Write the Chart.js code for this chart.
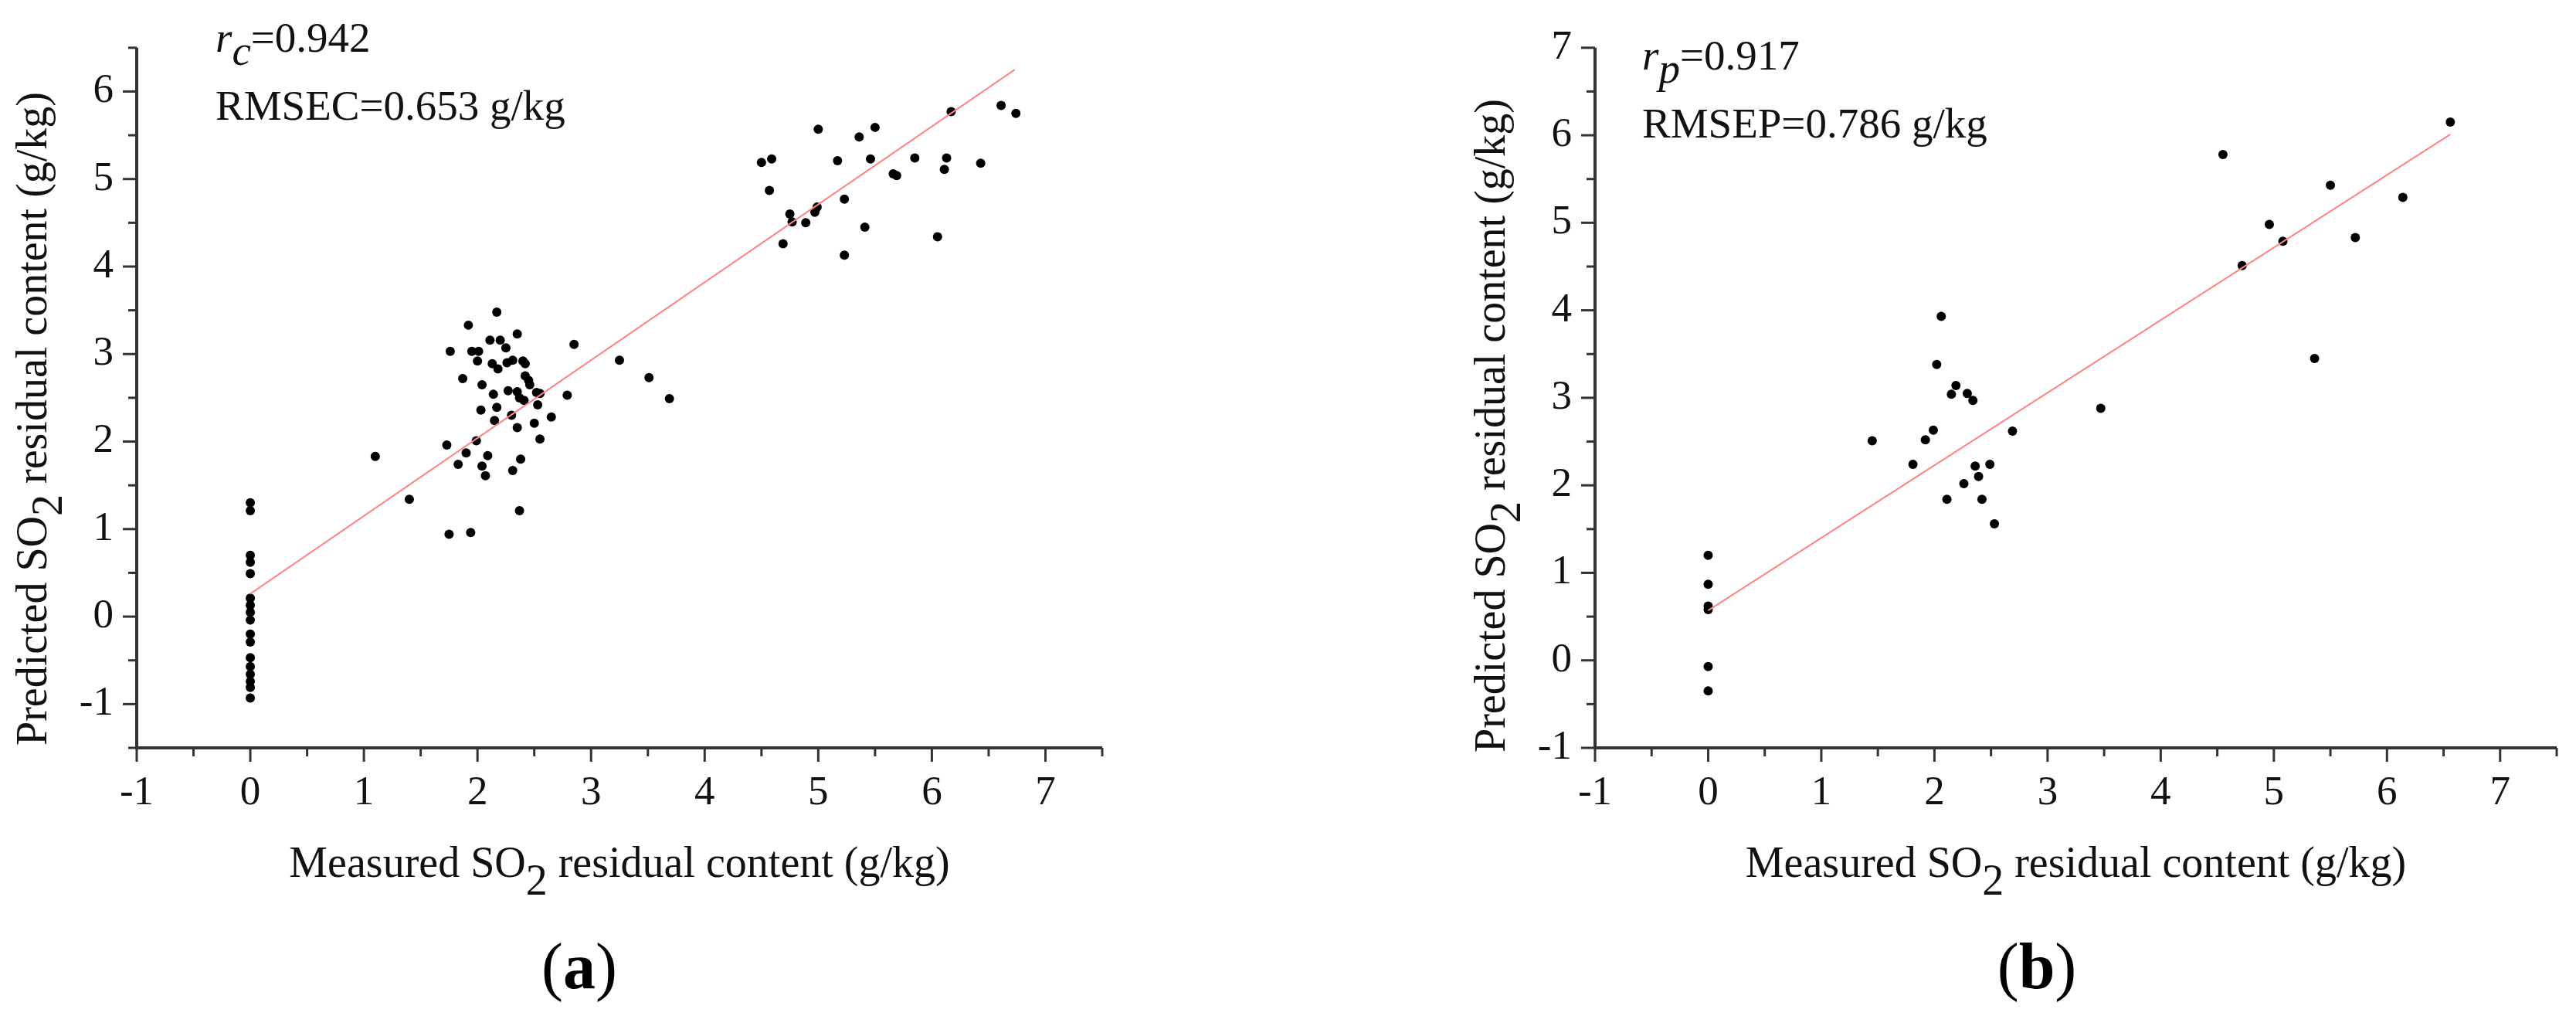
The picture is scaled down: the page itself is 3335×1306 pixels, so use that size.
<!DOCTYPE html>
<html>
<head>
<meta charset="utf-8">
<script src="https://cdn.jsdelivr.net/npm/chart.js@4.4.1/dist/chart.umd.min.js"></script>
<style>
  body { margin:0; width:3335px; height:1306px; background:#fff; position:relative; overflow:hidden; font-family:"Liberation Serif","Times New Roman",serif; }
  canvas { position:absolute; top:0; }
  .tag { position:absolute; top:1251px; transform:translate(-50%,-50%); font-family:"Liberation Serif","Times New Roman",serif; font-size:84px; line-height:1; color:#000; white-space:nowrap; }
  .warm { position:absolute; left:-9999px; top:0; font-family:"Liberation Serif"; font-size:20px; }
</style>
</head>
<body>
<canvas id="calChart" width="1667" height="1306" style="left:0"></canvas>
<canvas id="predChart" width="1668" height="1306" style="left:1667px"></canvas>
<div class="tag" style="left:750px">(<b>a</b>)</div>
<div class="tag" style="left:2637px">(<b>b</b>)</div>
<div class="warm">Measured <i>rc</i></div>
<script>
const FONT = '"Liberation Serif", "Times New Roman", serif';

// (a) calibration set: measured vs predicted SO2 (g/kg)
const calMeasured = [
  0, 0, 0, 0, 0, 0, 0, 0, 0, 0, 0, 0, 0, 0, 0, 0, 0,
  1.10, 1.40, 2.17, 1.92, 2.35, 2.11, 2.20, 2.25, 1.76, 1.95, 2.01, 2.00, 2.13, 2.18,
  2.26, 2.31, 2.40, 2.42, 2.85, 3.25, 3.51, 3.69, 1.87, 2.04, 2.42, 2.45, 2.46, 2.14,
  2.27, 2.35, 2.37, 2.41, 2.52, 2.55, 2.79, 2.53, 2.03, 2.17, 2.30, 2.15, 2.35, 2.50,
  2.65, 2.55, 1.99, 1.73, 1.90, 2.09, 1.83, 2.04, 2.07, 2.38, 2.31, 2.37, 1.75, 1.94,
  6.61, 6.74, 6.17, 5.00, 5.50, 5.36, 4.50, 4.59, 5.17, 5.46, 5.85, 6.13, 6.11, 6.43,
  5.66, 5.69, 4.57, 5.23, 4.99, 4.97, 4.75, 4.77, 4.89, 5.41, 4.69, 5.23, 6.05
];
const calPredicted = [
  1.30, 1.21, 0.70, 0.62, 0.49, 0.21, 0.13, 0.05, -0.04, -0.20, -0.29, -0.47, -0.57, -0.66, -0.74, -0.81, -0.93,
  1.83, 1.34, 3.48, 3.33, 3.23, 3.16, 3.16, 3.07, 3.03, 3.03, 3.03, 2.92, 2.89, 2.83,
  2.90, 2.93, 2.92, 2.89, 3.11, 2.93, 2.73, 2.49, 2.72, 2.65, 2.75, 2.70, 2.65, 2.54,
  2.58, 2.57, 2.50, 2.47, 2.56, 2.55, 2.53, 2.42, 2.36, 2.39, 2.30, 2.24, 2.16, 2.21,
  2.28, 2.03, 2.01, 1.96, 1.87, 1.84, 1.74, 1.72, 1.61, 1.80, 1.67, 1.21, 0.94, 0.96,
  5.84, 5.75, 5.77, 5.57, 5.59, 5.48, 5.19, 5.23, 5.21, 5.23, 5.24, 5.24, 5.11, 5.18,
  5.06, 5.04, 4.87, 4.77, 4.68, 4.62, 4.60, 4.51, 4.50, 4.45, 4.26, 4.13, 4.34
];
const calFitX = [0, 6.73];
const calFitY = [0.26, 6.25];

// (b) prediction set
const predMeasured = [
  0, 0, 0, 0, 0, 0,
  2.06, 2.02, 2.19, 2.15, 2.29, 2.34, 1.45, 1.99, 1.92, 1.81, 2.36, 2.49, 2.39, 2.26, 2.11, 2.42, 2.53,
  6.56, 4.55, 5.50, 6.14, 4.96, 5.08, 5.72, 4.72, 5.36, 3.47, 2.69
];
const predPredicted = [
  1.20, 0.87, 0.62, 0.58, -0.07, -0.35,
  3.93, 3.38, 3.14, 3.04, 3.05, 2.97, 2.51, 2.63, 2.52, 2.24, 2.22, 2.24, 2.10, 2.02, 1.84, 1.84, 1.56,
  6.15, 5.78, 5.43, 5.29, 4.98, 4.79, 4.83, 4.51, 3.45, 2.88, 2.62
];
const predFitX = [0, 6.56];
const predFitY = [0.57, 6.01];

// tick labels
const xTickValues = [-1, 0, 1, 2, 3, 4, 5, 6, 7];
const calYTickValues = [-1, 0, 1, 2, 3, 4, 5, 6];
const predYTickValues = [-1, 0, 1, 2, 3, 4, 5, 6, 7];

const xTitle = [{ t: 'Measured SO' }, { t: '2', sub: true }, { t: ' residual content (g/kg)' }];
const yTitle = [{ t: 'Predicted SO' }, { t: '2', sub: true }, { t: ' residual content (g/kg)' }];

function fontOf(p, size) {
  return (p.italic ? 'italic ' : '') + size + 'px ' + FONT;
}

function runWidth(ctx, parts, size) {
  let w = 0;
  parts.forEach(p => { ctx.font = fontOf(p, size); w += ctx.measureText(p.t).width; });
  return w;
}

function drawRun(ctx, parts, x, y, size, subShift) {
  parts.forEach(p => {
    ctx.font = fontOf(p, size);
    ctx.fillText(p.t, x, y + (p.sub ? subShift : 0));
    x += ctx.measureText(p.t).width;
  });
}

function decor(o) {
  return {
    id: 'decor',
    afterDraw(chart) {
      const ctx = chart.ctx, a = chart.chartArea;
      const xs = chart.scales.x, ys = chart.scales.y;
      ctx.save();
      ctx.strokeStyle = '#333';
      ctx.lineCap = 'butt';
      const seg = (x1, y1, x2, y2) => { ctx.beginPath(); ctx.moveTo(x1, y1); ctx.lineTo(x2, y2); ctx.stroke(); };

      ctx.lineWidth = 3;
      for (let v = xs.min; v <= xs.max + 1e-9; v += 0.5) {
        const px = xs.getPixelForValue(v);
        seg(px, a.bottom, px, a.bottom + (Number.isInteger(v) ? 18 : 11));
      }
      for (let v = ys.min; v <= ys.max + 1e-9; v += 0.5) {
        const py = ys.getPixelForValue(v);
        seg(a.left, py, a.left - (Number.isInteger(v) ? 18 : 11), py);
      }
      ctx.lineWidth = 4;
      seg(a.left, a.top, a.left, a.bottom + 2);
      seg(a.left - 2, a.bottom, a.right, a.bottom);

      ctx.fillStyle = '#111';
      ctx.textBaseline = 'alphabetic';
      ctx.textAlign = 'left';

      // x title
      const xw = runWidth(ctx, xTitle, 56);
      drawRun(ctx, xTitle, (a.left + a.right) / 2 - xw / 2, 1135, 56, 23);

      // y title (rotated)
      ctx.save();
      ctx.translate(a.left - 117, o.yTitleY);
      ctx.rotate(-Math.PI / 2);
      const yw = runWidth(ctx, yTitle, 56);
      drawRun(ctx, yTitle, -yw / 2, 0, 56, 20);
      ctx.restore();

      // statistics
      drawRun(ctx, o.stat1, o.statX, o.statY, 55, 17);
      drawRun(ctx, o.stat2, o.statX, o.statY + 88, 55, 17);
      ctx.restore();
    }
  };
}

function buildChart(id, o) {
  return new Chart(document.getElementById(id), {
    type: 'scatter',
    data: {
      datasets: [
        {
          data: o.fitX.map((x, i) => ({ x: x, y: o.fitY[i] })),
          showLine: true, borderColor: '#ff8585', borderWidth: 2,
          pointRadius: 0, fill: false
        },
        {
          data: o.mx.map((x, i) => ({ x: x, y: o.my[i] })),
          backgroundColor: '#000', borderColor: '#000', borderWidth: 0, pointRadius: 6
        }
      ]
    },
    options: {
      responsive: false, animation: false, devicePixelRatio: 1,
      layout: { padding: { top: o.padTop, right: o.padRight, left: 0, bottom: 0 } },
      plugins: { legend: { display: false }, tooltip: { enabled: false } },
      scales: {
        x: {
          type: 'linear', position: 'bottom', min: -1, max: 7.5,
          afterFit: s => { s.height = 338; },
          afterBuildTicks: s => { s.ticks = xTickValues.map(v => ({ value: v })); },
          ticks: { font: { family: FONT, size: 53, lineHeight: 1.2 }, color: '#111', padding: 27, autoSkip: false, maxRotation: 0 },
          grid: { display: false, drawTicks: false }, border: { display: false }
        },
        y: {
          type: 'linear', position: 'left', min: o.yMin, max: o.yMax,
          afterFit: s => { s.width = o.yAxisW; },
          afterBuildTicks: s => { s.ticks = o.yTicks.map(v => ({ value: v })); },
          ticks: { font: { family: FONT, size: 53, lineHeight: 1.2 }, color: '#111', padding: 30, autoSkip: false },
          grid: { display: false, drawTicks: false }, border: { display: false }
        }
      }
    },
    plugins: [decor(o)]
  });
}

function drawAll() {
  buildChart('calChart', {
    mx: calMeasured, my: calPredicted, fitX: calFitX, fitY: calFitY,
    yMin: -1.5, yMax: 6.5, yTicks: calYTickValues,
    padTop: 38, padRight: 240, yAxisW: 177, yTitleY: 542,
    statX: 279, statY: 67,
    stat1: [{ t: 'r', italic: true }, { t: 'c', italic: true, sub: true }, { t: '=0.942' }],
    stat2: [{ t: 'RMSEC=0.653 g/kg' }]
  });

  buildChart('predChart', {
    mx: predMeasured, my: predPredicted, fitX: predFitX, fitY: predFitY,
    yMin: -1, yMax: 7, yTicks: predYTickValues,
    padTop: 39, padRight: 25, yAxisW: 398, yTitleY: 551,
    statX: 459, statY: 90,
    stat1: [{ t: 'r', italic: true }, { t: 'p', italic: true, sub: true }, { t: '=0.917' }],
    stat2: [{ t: 'RMSEP=0.786 g/kg' }]
  });
}

Promise.all([
  document.fonts.load('56px "Liberation Serif"'),
  document.fonts.load('italic 56px "Liberation Serif"')
]).then(drawAll, drawAll);
</script>
</body>
</html>
